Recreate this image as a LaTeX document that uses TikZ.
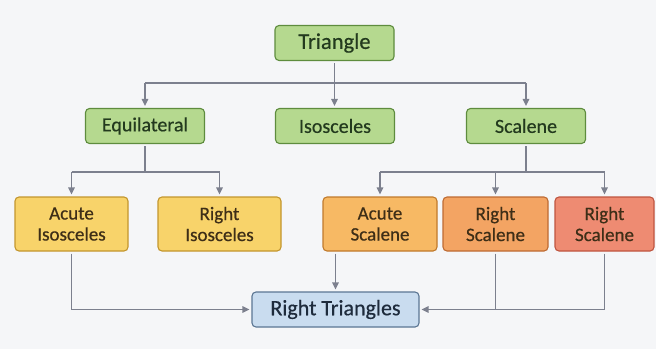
\documentclass[tikz,border=0pt]{standalone}
\usepackage{fontspec}
\setmainfont{Carlito}[FakeBold=0.5]
\usetikzlibrary{arrows.meta}
\definecolor{bgcol}{HTML}{F5F6F8}
\definecolor{linegray}{HTML}{7C808E}
\definecolor{greenfill}{HTML}{B5D98F}
\definecolor{greenline}{HTML}{5E8C3E}
\definecolor{greentext}{HTML}{233A1E}
\definecolor{yellowfill}{HTML}{F8D36A}
\definecolor{yellowline}{HTML}{C3962E}
\definecolor{browntext}{HTML}{3E2E17}
\definecolor{amberfill}{HTML}{F7B964}
\definecolor{amberline}{HTML}{C07A2C}
\definecolor{orangefill}{HTML}{F3A463}
\definecolor{orangeline}{HTML}{BE6B33}
\definecolor{redfill}{HTML}{EE8B72}
\definecolor{redline}{HTML}{BF5540}
\definecolor{bluefill}{HTML}{C9DCEF}
\definecolor{blueline}{HTML}{5B7693}
\definecolor{bluetext}{HTML}{1E2B3C}
\tikzset{
  box/.style={draw, rounded corners=4pt, line width=1.1pt, align=center, inner sep=0pt},
  gbox/.style={box, fill=greenfill, draw=greenline, text=greentext,
    minimum width=119pt, minimum height=35pt, font=\fontsize{20}{20}\selectfont},
  lowbox/.style={box, text=browntext, minimum height=54pt,
    font=\fontsize{19}{21}\selectfont},
  conn/.style={draw=linegray, line width=1.3pt, shorten <=2pt},
  arr/.style={conn, -{Triangle[length=7pt,width=6.5pt]}, shorten >=2pt}
}
\begin{document}
\begin{tikzpicture}[x=1pt,y=-1pt]
\fill[bgcol] (0,0) rectangle (656,349);
\node[gbox, font=\fontsize{22.5}{22.5}\selectfont] (tri) at (334.5,43) {Triangle};
\node[gbox] (equi) at (145,126) {Equilateral};
\node[gbox] (isos) at (335,126) {Isosceles};
\node[gbox] (scal) at (526,126) {Scalene};
\node[lowbox, fill=yellowfill, draw=yellowline, minimum width=113pt] (aiso) at (71.5,224) {Acute\\Isosceles};
\node[lowbox, fill=yellowfill, draw=yellowline, minimum width=123pt] (riso) at (219.5,224) {Right\\Isosceles};
\node[lowbox, fill=amberfill, draw=amberline, minimum width=114pt] (asca) at (380,224) {Acute\\Scalene};
\node[lowbox, fill=orangefill, draw=orangeline, minimum width=105pt] (rsca) at (495.5,224) {Right\\Scalene};
\node[lowbox, fill=redfill, draw=redline, minimum width=99pt] (rscb) at (604.5,224) {Right\\Scalene};
\node[box, fill=bluefill, draw=blueline, text=bluetext, minimum width=167pt, minimum height=35pt,
  font=\fontsize{22}{22}\selectfont] (rtri) at (335.5,309.5) {Right Triangles};
\coordinate (fk1) at (0,83);
\coordinate (fk2) at (0,172);
\draw[arr] (tri) -- (tri |- isos.north);
\draw[conn, shorten <=0pt] (fk1 -| equi) -- (fk1 -| scal);
\draw[arr, shorten <=0pt] (fk1 -| equi) -- (equi);
\draw[arr, shorten <=0pt] (fk1 -| scal) -- (scal);
\draw[conn] (equi) -- (fk2 -| equi);
\draw[conn, shorten <=0pt] (fk2 -| aiso) -- (fk2 -| riso);
\draw[arr, shorten <=0pt] (fk2 -| aiso) -- (aiso);
\draw[arr, shorten <=0pt] (fk2 -| riso) -- (riso);
\draw[conn] (scal) -- (fk2 -| scal);
\draw[conn, shorten <=0pt] (fk2 -| asca) -- (fk2 -| rscb);
\draw[arr, shorten <=0pt] (fk2 -| asca) -- (asca);
\draw[arr, shorten <=0pt] (fk2 -| rsca) -- (rsca);
\draw[arr, shorten <=0pt] (fk2 -| rscb) -- (rscb);
\draw[arr] (aiso) |- (rtri);
\draw[arr] (rtri.north |- asca.south) -- (rtri);
\draw[conn] (rsca) -- (rsca |- rtri);
\draw[arr] (rscb) |- (rtri);
\end{tikzpicture}
\end{document}
